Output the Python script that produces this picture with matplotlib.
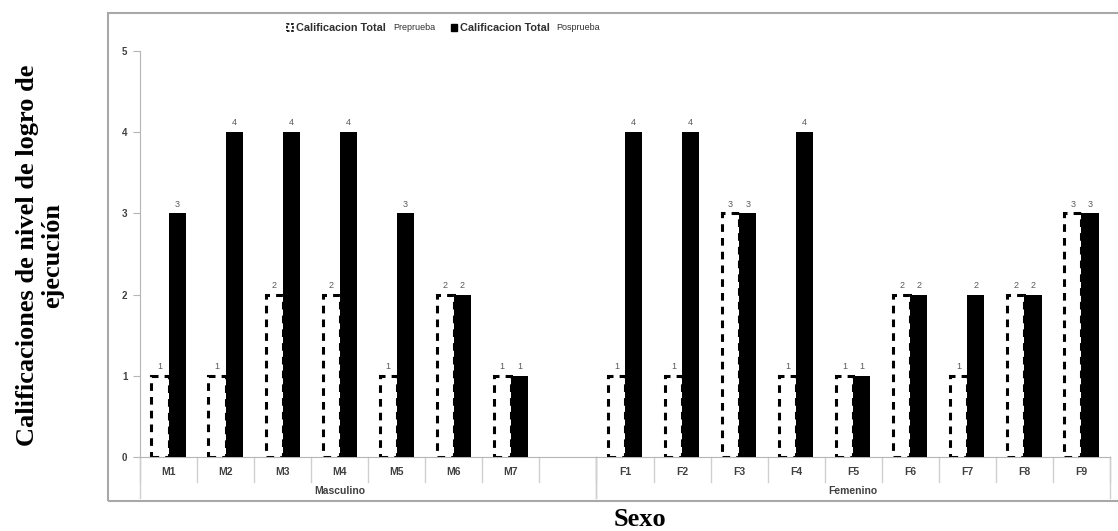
import numpy as np
import matplotlib
matplotlib.use('Agg')
import matplotlib.pyplot as plt
from matplotlib.patches import Rectangle
import matplotlib.transforms as mtransforms

plt.rcParams['font.family'] = 'Liberation Sans'

# Datos
categorias = ['M1', 'M2', 'M3', 'M4', 'M5', 'M6', 'M7', '',
              'F1', 'F2', 'F3', 'F4', 'F5', 'F6', 'F7', 'F8', 'F9']
preprueba = [1, 1, 2, 2, 1, 2, 1, np.nan, 1, 1, 3, 1, 1, 2, 1, 2, 3]
posprueba = [3, 4, 4, 4, 3, 2, 1, np.nan, 4, 4, 3, 4, 1, 2, 2, 2, 3]
grupos = ['Masculino', 'Femenino']
grupo_limites = [(0, 8), (8, 17)]

W, H = 1118, 531
fig = plt.figure(figsize=(W / 100, H / 100), dpi=100)
ax = fig.add_axes([140 / W, 1 - 457 / H, 970 / W, 406 / H])

x = np.arange(len(categorias))
bw = 0.3
gris = '#b5b5b5'
texto = '#404040'

# Barras preprueba (borde discontinuo)
ax.bar(x - bw / 2, preprueba, bw, facecolor='white', edgecolor='black',
       linewidth=2.2, linestyle=(0, (2.5, 2.0)), zorder=2)
# Barras posprueba (negras)
ax.bar(x + bw / 2, posprueba, bw, color='black', zorder=3)

# Etiquetas de valor
for i in range(len(categorias)):
    if not np.isnan(preprueba[i]):
        ax.text(x[i] - bw / 2, preprueba[i] + 0.06, f'{preprueba[i]:.0f}', ha='center',
                va='bottom', fontsize=6.5, color='#595959')
        ax.text(x[i] + bw / 2, posprueba[i] + 0.06, f'{posprueba[i]:.0f}', ha='center',
                va='bottom', fontsize=6.5, color='#595959')

ax.set_xlim(-0.5, len(categorias) - 0.5)
ax.set_ylim(0, 5)
ax.set_yticks(range(6))
ax.set_yticklabels([str(v) for v in range(6)], fontsize=7, fontweight='bold', color=texto)
ax.tick_params(axis='y', length=5, color=gris, pad=4)
ax.set_xticks([])
for s in ['top', 'right']:
    ax.spines[s].set_visible(False)
ax.spines['left'].set_color(gris)
ax.spines['bottom'].set_color(gris)

# Ejes de categorías en dos niveles
trans = mtransforms.blended_transform_factory(ax.transData, ax.transAxes)
for i, c in enumerate(categorias):
    ax.text(i, -0.037, c, transform=trans, ha='center', va='center', fontsize=7.5,
            fontweight='bold', color=texto)
for i in range(len(categorias) + 1):
    ax.plot([i - 0.5, i - 0.5], [0, -0.062], transform=trans, color='#d0d0d0',
            lw=1, clip_on=False)
for (a, b), g in zip(grupo_limites, grupos):
    ax.text((a + b - 1) / 2 if g == 'Femenino' else 3, -0.084, g, transform=trans,
            ha='center', va='center', fontsize=7.5, fontweight='bold', color=texto)
    for e in (a, b):
        ax.plot([e - 0.5, e - 0.5], [0, -0.1], transform=trans, color='#d0d0d0',
                lw=1, clip_on=False)

# Marco exterior del gráfico
fig.patches.append(Rectangle((108 / W, 1 - 501 / H), 1.0, (501 - 13) / H,
                             transform=fig.transFigure, fill=False,
                             edgecolor='#a8a8a8', linewidth=1.5))

# Leyenda
ly = 1 - 31 / H
fig.patches.append(Rectangle((287 / W, ly), 6 / W, 7 / H, transform=fig.transFigure,
                             facecolor='white', edgecolor='black', lw=1.2, linestyle=(0, (1.5, 1))))
fig.text(296 / W, ly, 'Calificacion Total', fontsize=7.8, fontweight='bold', color='#303030', va='baseline')
fig.text(393 / W, ly + 1 / H, 'Preprueba', fontsize=6.5, color='#303030', va='baseline')
fig.patches.append(Rectangle((451 / W, ly), 6 / W, 7 / H, transform=fig.transFigure,
                             facecolor='black', edgecolor='black'))
fig.text(460 / W, ly, 'Calificacion Total', fontsize=7.8, fontweight='bold', color='#303030', va='baseline')
fig.text(556 / W, ly + 1 / H, 'Posprueba', fontsize=6.5, color='#303030', va='baseline')

# Títulos de ejes
fig.text(40 / W, 1 - 255 / H, 'Calificaciones de nivel de logro de\nejecución', rotation=90,
         ha='center', va='center', fontsize=19, fontweight='bold', family='Liberation Serif',
         linespacing=1.08)
fig.text(640 / W, 1 - 519 / H, 'Sexo', ha='center', va='center', fontsize=19,
         fontweight='bold', family='Liberation Serif')

fig.savefig('out.png', dpi=100)
